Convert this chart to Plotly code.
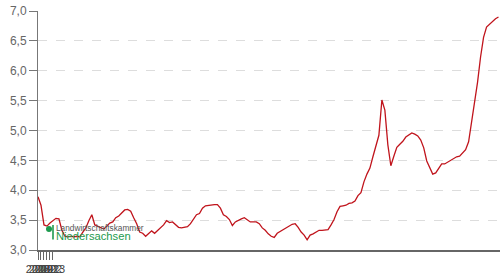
import plotly.graph_objects as go

values = [3.89, 3.75, 3.42, 3.40, 3.45, 3.49, 3.53, 3.52, 3.33, 3.23,
          3.22, 3.23, 3.22, 3.23, 3.22, 3.30, 3.37, 3.49, 3.59, 3.42,
          3.40, 3.37, 3.35, 3.40, 3.45, 3.47, 3.54, 3.57, 3.62, 3.67,
          3.68, 3.65, 3.54, 3.44, 3.30, 3.28, 3.23, 3.27, 3.32, 3.28,
          3.33, 3.38, 3.42, 3.49, 3.46, 3.47, 3.43, 3.38, 3.37, 3.38,
          3.39, 3.44, 3.52, 3.59, 3.61, 3.70, 3.74, 3.75, 3.76, 3.76,
          3.76, 3.70, 3.59, 3.56, 3.51, 3.41, 3.47, 3.50, 3.52, 3.54,
          3.51, 3.47, 3.47, 3.47, 3.44, 3.37, 3.33, 3.27, 3.23, 3.21,
          3.28, 3.31, 3.33, 3.37, 3.40, 3.43, 3.44, 3.38, 3.30, 3.25,
          3.17, 3.25, 3.27, 3.30, 3.33, 3.33, 3.33, 3.34, 3.42, 3.51,
          3.64, 3.73, 3.74, 3.75, 3.78, 3.79, 3.82, 3.91, 3.96, 4.14,
          4.27, 4.37, 4.56, 4.74, 4.92, 5.51, 5.34, 4.76, 4.41, 4.57,
          4.72, 4.77, 4.82, 4.89, 4.92, 4.96, 4.94, 4.91, 4.84, 4.71,
          4.49, 4.39, 4.27, 4.29, 4.37, 4.44, 4.44, 4.47, 4.51, 4.53,
          4.56, 4.57, 4.63, 4.68, 4.81, 5.14, 5.48, 5.81, 6.23, 6.56,
          6.73, 6.78, 6.83, 6.87, 6.90]
x_index = list(range(len(values)))
tick_positions = [0, 1, 2, 3, 4, 5]
tick_labels = ["2018", "2019", "2020", "2021", "2022", "2023"]
y_ticks = [3.0, 3.5, 4.0, 4.5, 5.0, 5.5, 6.0, 6.5, 7.0]

fig = go.Figure()
fig.add_trace(go.Scatter(x=x_index, y=values, mode="lines",
                         line=dict(color="#c0141c", width=1.3),
                         showlegend=False, hoverinfo="skip"))

fig.update_layout(
    width=500, height=280,
    margin=dict(l=38, r=0, t=11, b=30),
    paper_bgcolor="white", plot_bgcolor="white",
    separators=",.",
    font=dict(family="Liberation Sans, Arial, sans-serif", color="#666666", size=12),
)
fig.update_yaxes(
    range=[3.0, 7.0], tickvals=y_ticks, tickformat=".1f",
    showgrid=True, gridcolor="#dddddd", griddash="dash", gridwidth=1,
    showline=True, linecolor="#777777", linewidth=1,
    ticks="outside", ticklen=8, tickcolor="#777777",
    tickfont=dict(size=12, color="#666666"),
    zeroline=False,
)
fig.update_xaxes(
    range=[0, len(values) - 0.5], tickvals=tick_positions, ticktext=tick_labels,
    showgrid=False, showline=True, linecolor="#666666", linewidth=2,
    ticks="outside", ticklen=8, tickcolor="#666666",
    tickfont=dict(size=11, color="#444444"), tickangle=0,
    zeroline=False,
)

# logo imitation
fig.add_shape(type="circle", xref="paper", yref="paper",
              x0=(46 - 38) / 462, x1=(52 - 38) / 462,
              y0=(250 - 232) / 239, y1=(250 - 226) / 239,
              fillcolor="#1d9a4e", line=dict(width=0))
fig.add_shape(type="line", xref="paper", yref="paper",
              x0=(53 - 38) / 462, x1=(53 - 38) / 462,
              y0=(250 - 239.5) / 239, y1=(250 - 225) / 239,
              line=dict(color="#1d9a4e", width=1.6))
fig.add_annotation(xref="paper", yref="paper", x=(53.5 - 38) / 462, y=(250 - 227.5) / 239,
                   text="Landwirtschaftskammer", showarrow=False, xanchor="left", yanchor="middle",
                   font=dict(size=8.3, color="#555555", family="Liberation Sans, Arial, sans-serif"))
fig.add_annotation(xref="paper", yref="paper", x=(54 - 38) / 462, y=(250 - 236) / 239,
                   text="Niedersachsen", showarrow=False, xanchor="left", yanchor="middle",
                   font=dict(size=11.2, color="#1d9a4e", family="Liberation Sans, Arial, sans-serif"))

fig.write_html("out.html")
